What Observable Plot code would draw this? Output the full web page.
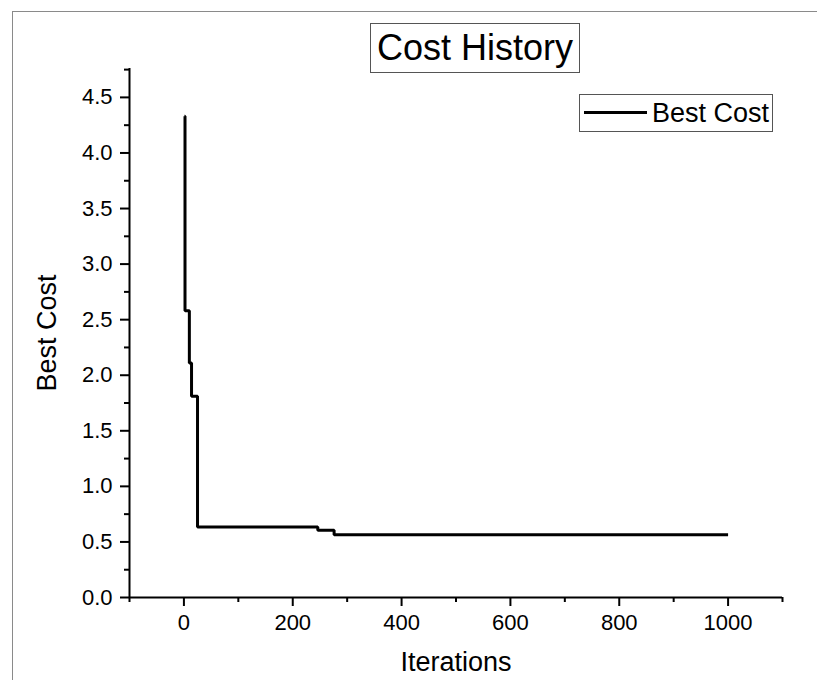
<!DOCTYPE html>
<html>
<head>
<meta charset="utf-8">
<script src="https://cdn.jsdelivr.net/npm/d3@7"></script>
<script src="https://cdn.jsdelivr.net/npm/@observablehq/plot@0.6"></script>
<style>
  html, body { margin: 0; padding: 0; background: #fff; }
  body { width: 817px; height: 680px; overflow: hidden; font-family: Arial, "Liberation Sans", sans-serif; color: #000; }
  #wrap { position: relative; width: 817px; height: 680px; }
  #outer { position: absolute; left: 12px; top: 11px; right: -10px; bottom: -10px; border-left: 1.5px solid #8a8a8a; border-top: 1.5px solid #8a8a8a; pointer-events: none; }
  #title { position: absolute; left: 370px; top: 23px; width: 210px; height: 50px; box-sizing: border-box; border: 1.5px solid #555; background: #fff; display: flex; align-items: center; justify-content: center; font-size: 36px; line-height: 1; }
  #legend { position: absolute; left: 579px; top: 94px; width: 194px; height: 38px; box-sizing: border-box; border: 1.5px solid #555; background: #fff; }
  #legend .swatch { position: absolute; left: 4px; top: 16px; width: 63px; height: 3px; background: #000; }
  #legend .lab { position: absolute; left: 72px; top: 3px; font-size: 27px; line-height: 30px; white-space: nowrap; }
</style>
</head>
<body>
<div id="wrap">
  <div id="chart"></div>
  <div id="outer"></div>
  <div id="title">Cost History</div>
  <div id="legend"><div class="swatch"></div><div class="lab">Best Cost</div></div>
</div>
<script>
// Step-change iterations and best cost values
const iterations = [1, 2, 10, 14, 25, 246, 276, 1000];
const bestCost   = [4.33, 2.58, 2.11, 1.81, 0.635, 0.605, 0.565, 0.565];

const xTicks = [0, 200, 400, 600, 800, 1000];
const xMinorTicks = [-100, 100, 300, 500, 700, 900, 1100];
const yTicks = [0, 0.5, 1.0, 1.5, 2.0, 2.5, 3.0, 3.5, 4.0, 4.5];
const yMinorTicks = [0.25, 0.75, 1.25, 1.75, 2.25, 2.75, 3.25, 3.75, 4.25, 4.75];

const xDomain = [-100, 1100];
const yDomain = [0, 4.76];

const data = iterations.map((it, i) => ({iter: it, cost: bestCost[i]}));

const chart = Plot.plot({
  width: 817,
  height: 680,
  marginLeft: 129,
  marginRight: 35,
  marginTop: 68,
  marginBottom: 83,
  style: {fontFamily: "Arial, 'Liberation Sans', sans-serif", fontSize: "22px", color: "#000", background: "#fff"},
  x: {domain: xDomain, label: null},
  y: {domain: yDomain, label: null},
  marks: [
    Plot.axisX({ticks: xMinorTicks, tickSize: 5, strokeWidth: 2, tickFormat: () => "", label: null}),
    Plot.axisX({ticks: xTicks, tickSize: 9, tickPadding: 8, strokeWidth: 2, fontSize: 22, tickFormat: d3.format("d"), label: null}),
    Plot.axisY({ticks: yMinorTicks, tickSize: 5, strokeWidth: 2, tickFormat: () => "", label: null}),
    Plot.axisY({ticks: yTicks, tickSize: 9, tickPadding: 8, strokeWidth: 2, fontSize: 22, tickFormat: d3.format(".1f"), label: null}),
    Plot.ruleX([xDomain[0]], {y1: yDomain[0], y2: yDomain[1], strokeWidth: 2}),
    Plot.ruleY([yDomain[0]], {x1: xDomain[0], x2: xDomain[1], strokeWidth: 2}),
    Plot.line(data, {x: "iter", y: "cost", curve: "step-after", stroke: "#000", strokeWidth: 3, strokeLinejoin: "miter", strokeLinecap: "butt"}),
    Plot.text(["Iterations"], {text: d => d, frameAnchor: "bottom", dy: 65, lineAnchor: "middle", textAnchor: "middle", fontSize: 27}),
    Plot.text(["Best Cost"], {text: d => d, frameAnchor: "left", dx: -82, rotate: -90, lineAnchor: "middle", textAnchor: "middle", fontSize: 27})
  ]
});
document.getElementById("chart").appendChild(chart);
</script>
</body>
</html>
